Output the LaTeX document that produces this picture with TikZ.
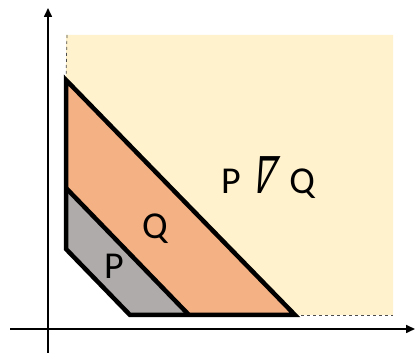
\documentclass[tikz,border=0pt]{standalone}
\usepackage{fontspec}
\setmainfont{Carlito}
\newfontfamily\djv{DejaVu Sans}
\usetikzlibrary{arrows.meta}
\definecolor{ylw}{HTML}{FFF2CC}
\definecolor{orng}{HTML}{F4B183}
\definecolor{gry}{HTML}{AFABAB}
\newcommand\slnabla{\tikz[baseline=0pt]\node[inner sep=0pt,anchor=base,xslant=0.3,xscale=0.8,yscale=1.35]{\djv ∇};}
\tikzset{
  axis/.style={line width=1.6pt,-{Triangle[length=9pt,width=8pt]}},
  bound/.style={line width=4.5pt,line join=miter},
  dashline/.style={dashed,line width=0.7pt,draw=black!70},
  lbl/.style={font=\fontsize{38}{40}\selectfont,inner sep=0pt}
}
\begin{document}
\begin{tikzpicture}[x=1pt,y=1pt]
\useasboundingbox (0,0) rectangle (416,353);
% coordinates
\coordinate (ytop) at (48,345);
\coordinate (ybot) at (48,0);
\coordinate (xl) at (10,24);
\coordinate (xr) at (415,24);
\coordinate (A) at (66,273);
\coordinate (B) at (295,38);
\coordinate (C) at (189,38);
\coordinate (D) at (66,165);
\coordinate (E) at (130,38);
\coordinate (F) at (66,104);
\coordinate (Y1) at (67,318);
\coordinate (Y2) at (393,318);
\coordinate (Y3) at (393,38);
% background region
\fill[ylw] (F) -- (66,318) -- (Y2) -- (Y3) -- (E) -- cycle;
\draw[dashline] (Y1) -- (A);
\draw[dashline] (B) -- (Y3);
% polygons
\fill[orng] (A) -- (B) -- (C) -- (D) -- cycle;
\fill[gry] (D) -- (C) -- (E) -- (F) -- cycle;
\draw[bound] (A) -- (B) -- (E) -- (F) -- cycle;
\draw[bound] (D) -- (C);
% axes
\draw[axis] (ybot) -- (ytop);
\draw[axis] (xl) -- (xr);
% labels
\node[lbl] (lp) at (114,87) {P};
\node[lbl] (lq) at (155,124) {Q};
\node[lbl] (lpq) at (268,175) {P \slnabla{} Q};
\end{tikzpicture}
\end{document}
